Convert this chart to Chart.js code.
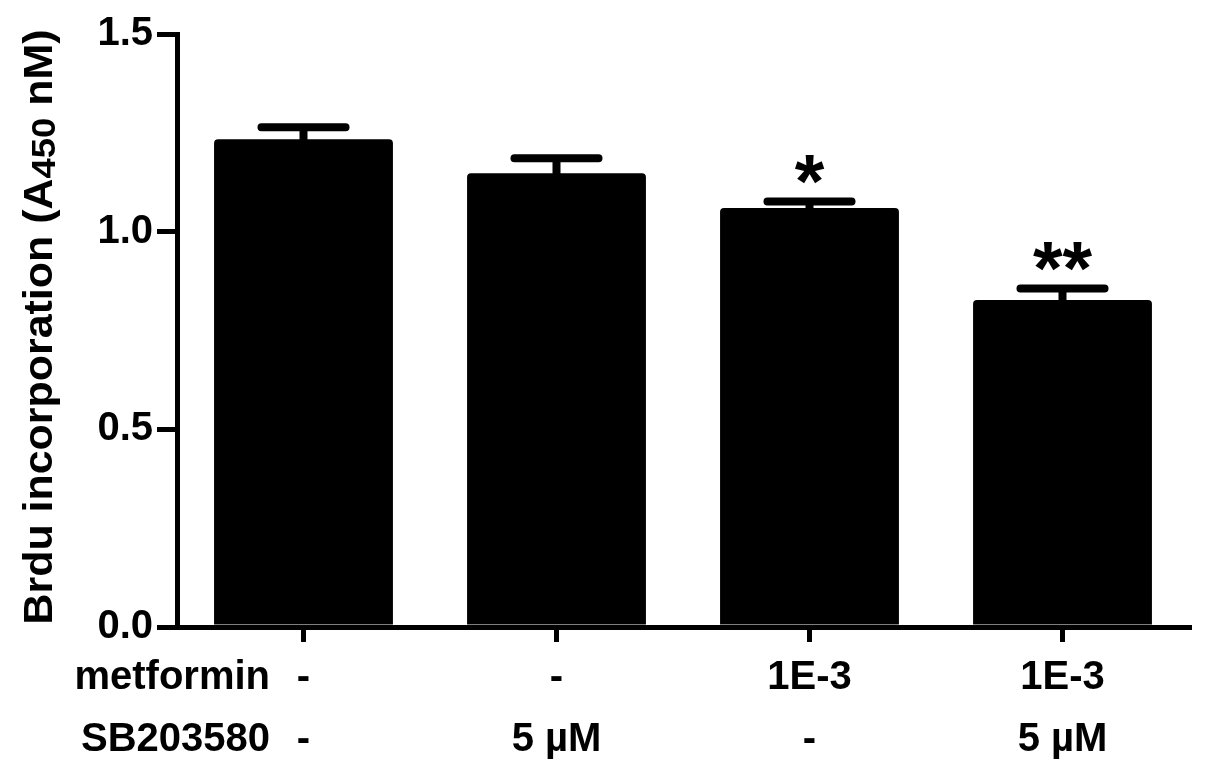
<!DOCTYPE html>
<html>
<head>
<meta charset="utf-8">
<script src="https://cdn.jsdelivr.net/npm/chart.js@4.4.1/dist/chart.umd.min.js"></script>
<style>
  html, body { margin: 0; padding: 0; background: #fff; }
  #wrap { width: 1205px; height: 778px; }
</style>
</head>
<body>
<div id="wrap"><canvas id="chart"></canvas></div>
<script>
/* ── DATA ── */
const metforminRow = ['-', '-', '1E-3', '1E-3'];
const sbRow        = ['-', '5 µM', '-', '5 µM'];
const brdu         = [1.234, 1.148, 1.060, 0.827];
const brduErr      = [0.030, 0.038, 0.016, 0.029];
const stars        = ['', '', '*', '**'];
const yTicks       = [0, 0.5, 1.0, 1.5];
const rowNames     = ['metformin', 'SB203580'];

const FONT = "'Liberation Sans', Arial, sans-serif";

/* ── PLUGINS ── */
// error bars + significance stars, positioned through the y scale
const errorBars = {
  id: 'errorBars',
  afterDatasetsDraw(chart) {
    const { ctx, scales: { y } } = chart;
    const meta = chart.getDatasetMeta(0);
    ctx.save();
    ctx.strokeStyle = '#000';
    ctx.fillStyle = '#000';
    ctx.lineWidth = 8;
    ctx.lineCap = 'round';
    meta.data.forEach((bar, i) => {
      const top = y.getPixelForValue(brdu[i] + brduErr[i]);
      const half = bar.width * 0.235;
      ctx.beginPath();
      ctx.moveTo(bar.x, bar.y);
      ctx.lineTo(bar.x, top);
      ctx.moveTo(bar.x - half, top);
      ctx.lineTo(bar.x + half, top);
      ctx.stroke();
      if (stars[i]) {
        ctx.font = 'bold 76px ' + FONT;
        ctx.textAlign = 'center';
        ctx.textBaseline = 'alphabetic';
        ctx.fillText(stars[i], bar.x, top + 5);
      }
    });
    ctx.restore();
  }
};

// y title with subscript, and the row names left of the x labels
const extraText = {
  id: 'extraText',
  afterDraw(chart) {
    const { ctx } = chart;
    ctx.save();
    ctx.fillStyle = '#000';

    // y title
    const parts = [
      { t: 'Brdu incorporation (A', f: 'bold 40px ' + FONT, dy: 0 },
      { t: '450', f: 'bold 34px ' + FONT, dy: 5 },
      { t: ' nM)', f: 'bold 40px ' + FONT, dy: 0 },
    ];
    let total = 0;
    parts.forEach(p => { ctx.font = p.f; p.w = ctx.measureText(p.t).width; total += p.w; });
    const target = 595;
    ctx.translate(41, 327);
    ctx.rotate(-Math.PI / 2);
    ctx.scale(target / total, 1);
    ctx.textBaseline = 'middle';
    ctx.textAlign = 'left';
    let x = -total / 2;
    parts.forEach(p => { ctx.font = p.f; ctx.fillText(p.t, x, p.dy); x += p.w; });
    ctx.setTransform(1, 0, 0, 1, 0, 0);

    // row names
    ctx.font = 'bold 40px ' + FONT;
    ctx.textAlign = 'right';
    ctx.textBaseline = 'middle';
    ctx.fillText(rowNames[0], 270, 678);
    ctx.fillText(rowNames[1], 270, 740);
    ctx.restore();
  }
};

/* ── CHART ── */
new Chart(document.getElementById('chart'), {
  type: 'bar',
  data: {
    labels: metforminRow.map((m, i) => [m, sbRow[i]]),
    datasets: [{
      data: brdu,
      backgroundColor: '#000',
      borderRadius: 4,
      barPercentage: 0.707,
      categoryPercentage: 1.0,
    }]
  },
  options: {
    responsive: true,
    maintainAspectRatio: false,
    animation: false,
    layout: { padding: { top: 34, right: 16, left: 0, bottom: 0 } },
    plugins: { legend: { display: false }, tooltip: { enabled: false } },
    scales: {
      x: {
        afterFit: s => { s.height = 151; },
        border: { color: '#000', width: 5 },
        grid: { offset: false, drawOnChartArea: false, drawTicks: true, tickLength: 15, lineWidth: 5, color: '#000' },
        ticks: { color: '#000', padding: 5, maxRotation: 0, autoSkip: false,
                 font: { family: FONT, size: 40, weight: 'bold', lineHeight: 1.55 } }
      },
      y: {
        min: 0, max: 1.5,
        afterFit: s => { s.width = 177; },
        afterBuildTicks: s => { s.ticks = yTicks.map(v => ({ value: v })); },
        border: { color: '#000', width: 5 },
        grid: { drawOnChartArea: false, drawTicks: true, tickLength: 20, lineWidth: 5, color: '#000' },
        ticks: { color: '#000', padding: 4,
                 font: { family: FONT, size: 40, weight: 'bold' },
                 callback: v => Number(v).toFixed(1) }
      }
    }
  },
  plugins: [errorBars, extraText]
});
</script>
</body>
</html>
